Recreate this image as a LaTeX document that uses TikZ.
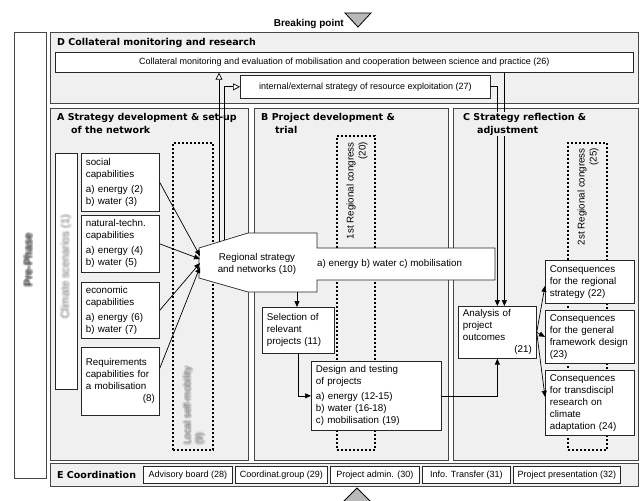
\documentclass[tikz,border=0pt]{standalone}
\usepackage{fontspec}
\setmainfont{Liberation Sans}
\newfontfamily\headfont{DejaVu Sans}
\usetikzlibrary{arrows.meta,fit}

\newcommand{\bodysize}{\fontsize{9.8}{12}\selectfont}
\newcommand{\smallsize}{\fontsize{9}{11}\selectfont}
\newcommand{\headsize}{\headfont\bfseries\fontsize{9.5}{13}\selectfont}

\definecolor{regfill}{RGB}{240,240,240}
\definecolor{regline}{RGB}{70,70,70}
\definecolor{trifill}{RGB}{185,185,185}

\begin{document}
\begin{tikzpicture}[x=1pt,y=-1pt,
  region/.style={draw=regline, fill=regfill, line width=0.9pt, inner sep=0pt},
  wbox/.style={draw=black!85, fill=white, line width=0.7pt, inner sep=0pt},
  tbox/.style={draw=black!85, fill=white, line width=0.7pt, anchor=north west,
    inner xsep=4.5pt, inner ysep=0pt, align=left, font=\bodysize},
  cbox/.style={draw=black!85, fill=white, line width=0.7pt, anchor=north west,
    inner sep=0pt, align=center, font=\smallsize},
  dotbox/.style={draw=black, line width=1.7pt, dash pattern=on 1.7pt off 2.3pt, inner sep=0pt},
  head/.style={font=\headsize, inner sep=0pt, align=left},
  rottext/.style={font=\bodysize, inner sep=0pt, rotate=90},
  haze/.style={opacity=0.2, inner sep=0pt, rotate=90},
  arr/.style={draw=black, line width=0.7pt, -{Triangle[length=6pt,width=5pt]}},
  oarr/.style={draw=black, line width=0.7pt, -{Triangle[length=7pt,width=7pt,fill=white]}},
  tri/.style={draw=black, fill=trifill, line width=0.8pt, line join=miter},
]
\useasboundingbox (0,0) rectangle (644,500);

% ---------- breaking point markers ----------
\node[anchor=east, inner sep=0pt, font=\bfseries\fontsize{10}{12}\selectfont] (brk) at (344,24) {Breaking point};
\draw[tri] (345,13) -- (371,13) -- (358,27) -- cycle;
\draw[tri] (357,488) -- (371,502) -- (343,502) -- cycle;

% ---------- frames ----------
\node[region, fill=white, fit={(14,32)(46,478)}] (pre) {};
\node[region, fit={(50,32)(638,103)}] (regD) {};
\node[region, fit={(50,108)(248,460)}] (regA) {};
\node[region, fit={(254,108)(448,460)}] (regB) {};
\node[region, fit={(453,108)(638,460)}] (regC) {};
\node[region, fit={(50,463)(638,486)}] (regE) {};

% ---------- dotted event columns ----------
\node[dotbox, fit={(173,143)(213,450)}] (selfmob) {};
\node[dotbox, fit={(337,136)(375,450)}] (congA) {};
\node[dotbox, fit={(568,143)(607,450)}] (congB) {};

% ---------- D: monitoring ----------
\node[head, anchor=west] (tD) at (57,43) {D Collateral monitoring and research};
\node[cbox, minimum width=578pt, minimum height=20pt] (mon) at (55,52)
  {Collateral monitoring and evaluation of mobilisation and cooperation between science and practice (26)};
\node[cbox, minimum width=250pt, minimum height=23pt] (ext) at (240,75)
  {internal/external strategy of resource exploitation (27)};

% ---------- A: strategy development ----------
\node[head, anchor=north west] (tA) at (57,113) {A Strategy development \& set-up\\\hspace*{14pt}of the network};
\node[wbox, fit={(55,153)(77,389)}] (clim) {};
\node[tbox, minimum width=78pt, minimum height=58pt, text width=69pt] (social) at (81,153)
  {social\\capabilities\\[3pt]a) energy (2)\\b) water (3)};
\node[tbox, minimum width=78pt, minimum height=57pt, text width=69pt] (natural) at (81,215)
  {natural-techn.\\capabilities\\[3pt]a) energy (4)\\b) water (5)};
\node[tbox, minimum width=78pt, minimum height=56pt, text width=69pt] (economic) at (81,282)
  {economic\\capabilities\\[3pt]a) energy (6)\\b) water (7)};
\node[tbox, minimum width=78pt, minimum height=68pt, text width=69pt] (req) at (81,347)
  {Requirements\\capabilities for\\a mobilisation\\\mbox{}\hfill(8)\\[6pt]};

% regional strategy block with its outgoing bar
\draw[draw=black!85, fill=white, line width=0.7pt]
  (199,248) -- (248,233) -- (317,233) -- (317,248) -- (495,248) -- (495,280)
  -- (317,280) -- (317,292) -- (248,292) -- (199,278) -- cycle;
\node[font=\bodysize, align=center, inner sep=0pt] (regnet) at (257,264) {Regional strategy\\and networks (10)};
\node[font=\bodysize, anchor=west, inner sep=0pt] (abc) at (317,264) {a) energy b) water c) mobilisation};
\coordinate (rin1) at (200,256);
\coordinate (rin2) at (200,259);
\coordinate (rin3) at (200,263);
\coordinate (rin4) at (200,267);
\coordinate (rtop1) at (219,242);
\coordinate (rtop2) at (224,240);
\coordinate (rbot) at (297,292);

% ---------- B: project development ----------
\node[head, anchor=north west] (tB) at (261,113) {B Project development \&\\\hspace*{14pt}trial};
\node[tbox, minimum width=72pt, minimum height=46pt, text width=63pt] (sel) at (262,307)
  {Selection of\\relevant\\projects (11)};
\node[tbox, minimum width=130pt, minimum height=69pt, text width=121pt] (design) at (311,361)
  {Design and testing\\of projects\\[3pt]a) energy (12-15)\\b) water (16-18)\\c) mobilisation (19)};

% ---------- C: reflection ----------
\node[tbox, minimum width=78pt, minimum height=52pt, text width=69pt] (ana) at (458,306)
  {Analysis of\\project\\outcomes\\\mbox{}\hfill(21)};
\node[tbox, minimum width=89pt, minimum height=43pt, text width=80pt] (c22) at (545,260)
  {Consequences\\for the regional\\strategy (22)};
\node[tbox, minimum width=89pt, minimum height=53pt, text width=80pt] (c23) at (545,310)
  {Consequences\\for the general\\framework design\\(23)};
\node[tbox, minimum width=89pt, minimum height=65pt, text width=80pt] (c24) at (545,370)
  {Consequences\\for transdiscipl\\research on\\climate\\adaptation (24)};

% ---------- rotated labels ----------
\node[rottext, anchor=east, align=right] (congAtxt) at (357,142) {1st Regional congress\\(20)};
\node[rottext, anchor=east, align=right] (congBtxt) at (588,148) {2st Regional congress\\(25)};
\foreach \dx/\dy [count=\k] in {0/0,1.2/0,-1.2/0,0/1.2,0/-1.2,0.9/0.9,-0.9/-0.9,0.9/-0.9,-0.9/0.9} {
  \node[haze, text=black!75, font=\bfseries\fontsize{11}{13}\selectfont, xshift=\dx pt, yshift=\dy pt]
    (prephase\k) at (28,260) {Pre-Phase};
  \node[haze, text=black!40, font=\fontsize{11}{13}\selectfont, xshift=\dx pt, yshift=\dy pt]
    (climtxt\k) at (66,267) {Climate scenarios (1)};
  \node[haze, text=black!55, font=\bodysize, anchor=west, align=left, xshift=\dx pt, yshift=\dy pt]
    (selftxt\k) at (194,445) {Local self-mobility\\(9)};
}

% ---------- connectors ----------
\draw[arr] (social.east) -- (rin1);
\draw[arr] (natural.east) -- (rin2);
\draw[arr] (economic.east) -- (rin3);
\draw[arr] ([yshift=13pt]req.east) -- (rin4);
\draw[oarr] (rtop1) -- (rtop1 |- mon.south);
\draw[oarr] (rtop2) |- (ext.west);
\draw[arr] (rbot) -- (rbot |- sel.north);
\draw[arr] (sel.south) |- (design.west);
\draw[arr] (design.east) -| (ana.south);
\draw[arr] (ext.east) -| (ana.north);
\draw[arr] ([xshift=7pt]ana.north |- mon.south) -- ([xshift=7pt]ana.north);
\draw[arr] (ana.east) -- ([yshift=-4pt]c22.west);
\draw[arr] (ana.east) -- (c23.west);
\draw[arr] (ana.east) -- ([yshift=6pt]c24.west);

% C heading sits on top of the lines that cross it
\node[head, anchor=north west, fill=regfill, inner sep=1pt] (tC) at (462,112) {C Strategy reflection \&\\\hspace*{14pt}adjustment};

% ---------- E: coordination ----------
\node[head, anchor=west] (tE) at (57,475) {E Coordination};
\node[cbox, minimum width=89pt, minimum height=17pt] (adv) at (143,466) {Advisory board (28)};
\node[cbox, minimum width=92pt, minimum height=17pt] (cgrp) at (235,466) {Coordinat.group (29)};
\node[cbox, minimum width=89pt, minimum height=17pt] (padm) at (330,466) {Project admin. (30)};
\node[cbox, minimum width=88pt, minimum height=17pt] (info) at (422,466) {Info. Transfer (31)};
\node[cbox, minimum width=107pt, minimum height=17pt] (pres) at (513,466) {Project presentation (32)};
\end{tikzpicture}
\end{document}
